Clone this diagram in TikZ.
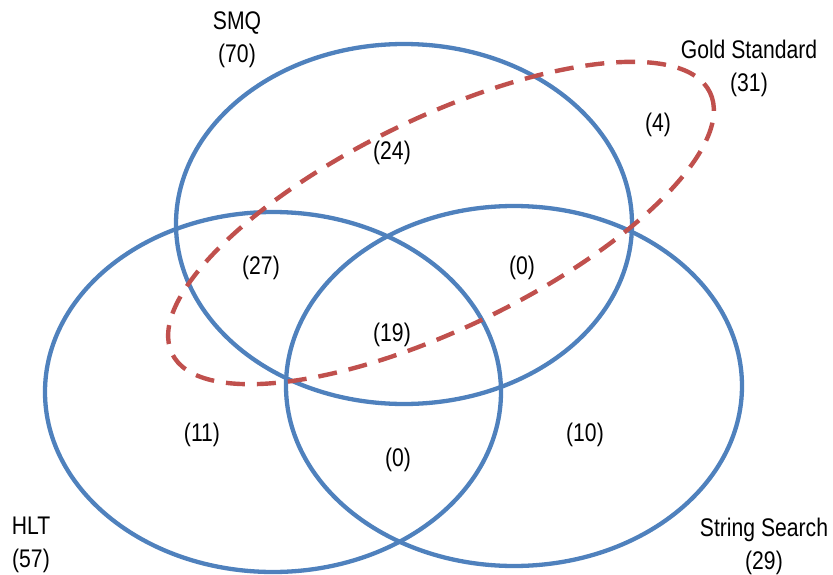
\documentclass[tikz,border=0pt]{standalone}
\usepackage{fontspec}
\setmainfont[FakeStretch=0.83]{Liberation Sans}
\usepackage{xcolor}
\usepackage{tikz}
\usetikzlibrary{positioning}
\definecolor{SetBlue}{HTML}{4F81BD}
\definecolor{GoldRed}{HTML}{C0504D}
\definecolor{Ink}{HTML}{000000}

\begin{document}
\begin{tikzpicture}[
  x=0.02cm,y=-0.02cm,
  setline/.style={draw=SetBlue,line width=2.45pt},
  goldline/.style={draw=GoldRed,line width=2.5pt,dash pattern=on 0.38cm off 0.24cm},
  setname/.style={align=center,font=\fontsize{14.5}{18.7}\selectfont,text=Ink,inner sep=0pt},
  count/.style={font=\fontsize{14.5}{16}\selectfont,text=Ink,inner sep=0pt}
]
\useasboundingbox (0,0) rectangle (833,575);

% the three sets
\draw[setline] (404,224) ellipse [x radius=228,y radius=180];
\draw[setline] (273,392) ellipse [x radius=228,y radius=180];
\draw[setline] (514,386) ellipse [x radius=228,y radius=180];
% gold standard
\draw[goldline,rotate around={25.9:(441,223)}] (441,223) ellipse [x radius=299,y radius=105];

% set names
\node[setname] (smq) at (237,40) {SMQ\\(70)};
\node[setname] (gold) at (749,68) {Gold Standard\\(31)};
\node[setname] (hlt) at (31,545) {HLT\\(57)};
\node[setname] (strsearch) at (764,546) {String Search\\(29)};

% region counts
\node[count] (c24) at (392,153) {(24)};
\node[count] (c4) at (658,125) {(4)};
\node[count] (c27) at (261,268) {(27)};
\node[count] (c0a) at (522,268) {(0)};
\node[count] (c19) at (392,335) {(19)};
\node[count] (c11) at (202,435) {(11)};
\node[count] (c10) at (585,435) {(10)};
\node[count] (c0b) at (398,460) {(0)};
\end{tikzpicture}
\end{document}
